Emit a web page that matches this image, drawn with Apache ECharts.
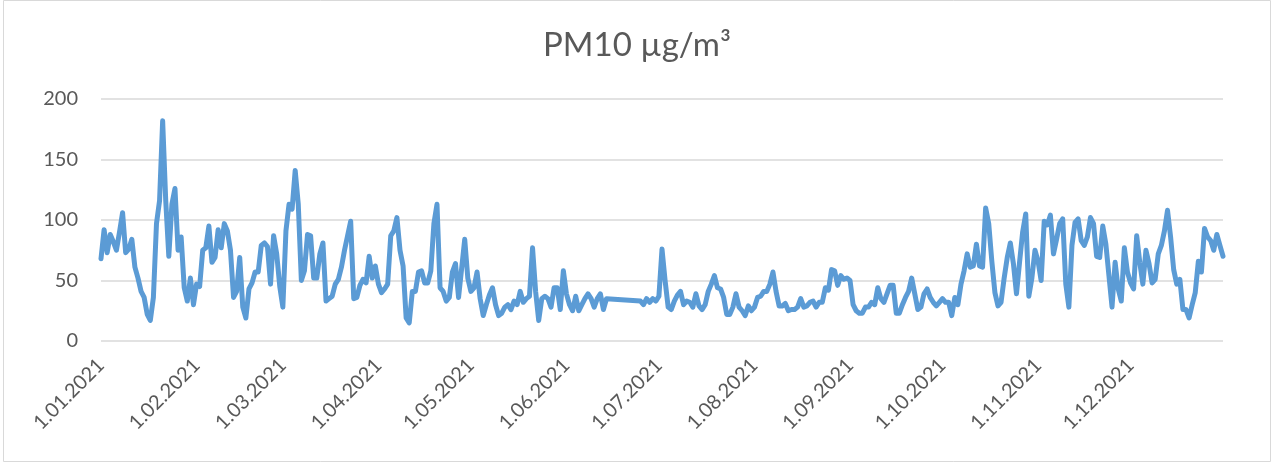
<!DOCTYPE html>
<html>
<head>
<meta charset="utf-8">
<script src="https://cdn.jsdelivr.net/npm/echarts@6/dist/echarts.min.js"></script>
<style>
  html, body { margin: 0; padding: 0; background: #fff; }
  #chart { width: 1274px; height: 466px; }
</style>
</head>
<body>
<div id="chart"></div>
<script>
// daily PM10 values for 2021, one array per month (null = no measurement)
const jan = [68, 92, 73, 88, 82, 75, 90, 106, 73, 76, 84, 61, 52, 41, 36, 22, 17, 36, 97, 116, 182, 116, 70, 113, 126, 75, 86, 44, 33, 52, 30]
const feb = [47, 45, 75, 77, 95, 65, 69, 92, 77, 97, 91, 75, 36, 41, 69, 28, 19, 43, 48, 57, 57, 79, 81, 78, 47, 87, 72, 45]
const mar = [28, 91, 113, 109, 141, 113, 50, 58, 88, 87, 52, 52, 72, 81, 33, 35, 37, 47, 51, 61, 75, 87, 99, 35, 36, 46, 51, 48, 70, 52, 62]
const apr = [47, 40, 43, 47, 87, 91, 102, 75, 62, 19, 15, 41, 41, 57, 58, 48, 48, 58, 97, 113, 44, 41, 33, 36, 57, 64, 36, 60, 84, 52]
const may = [41, 44, 57, 35, 21, 30, 38, 44, 30, 21, 23, 28, 30, 26, 33, 30, 41, 32, 35, 37, 77, 41, 17, 35, 37, 35, 28, 44, 44, 26, 58]
const jun = [39, 30, 25, 37, 25, 30, 35, 39, 35, 28, 35, 39, 26, 35, null, null, null, null, null, null, null, null, null, null, 33, 30, 35, 32, 35, 33]
const jul = [37, 76, 50, 28, 26, 33, 38, 41, 30, 33, 32, 28, 39, 29, 26, 30, 41, 47, 54, 44, 43, 36, 22, 22, 28, 39, 28, 25, 21, 29, 25]
const aug = [28, 36, 37, 41, 41, 47, 57, 41, 29, 29, 31, 25, 26, 26, 28, 35, 28, 29, 32, 33, 28, 32, 32, 44, 42, 59, 58, 46, 54, 51, 52]
const sep = [50, 30, 25, 23, 23, 28, 28, 32, 30, 44, 35, 32, 39, 46, 46, 23, 23, 30, 36, 41, 52, 39, 26, 28, 39, 43, 36, 32, 29, 32]
const oct = [35, 32, 32, 21, 36, 30, 47, 58, 72, 61, 62, 80, 62, 61, 110, 97, 66, 40, 29, 32, 52, 69, 81, 64, 39, 65, 90, 105, 37, 52, 75]
const nov = [66, 50, 99, 96, 104, 72, 84, 97, 101, 47, 28, 79, 98, 101, 83, 79, 86, 102, 97, 70, 69, 95, 80, 54, 28, 65, 43, 33, 77, 57]
const dec = [48, 43, 87, 65, 47, 75, 64, 48, 51, 72, 79, 91, 108, 86, 59, 47, 51, 26, 26, 19, 30, 40, 66, 57, 93, 86, 83, 75, 88, 79, 70]

const months = [jan, feb, mar, apr, may, jun, jul, aug, sep, oct, nov, dec]
const year = 2021
const title = 'PM10 µg/m³'
const yMin = 0
const yMax = 200
const yStep = 50

// category labels like 1.01.2021
const dates = []
const values = []
months.forEach((days, m) => {
  days.forEach((v, i) => {
    dates.push(`${i + 1}.${String(m + 1).padStart(2, '0')}.${year}`)
    values.push(v)
  })
})

const textColor = '#595959'
const font = 'Lato, "Open Sans", sans-serif'

const chart = echarts.init(document.getElementById('chart'))
chart.setOption({
  backgroundColor: '#fff',
  animation: false,
  title: {
    text: title,
    left: 'center',
    top: 24,
    textStyle: { color: textColor, fontFamily: font, fontSize: 33, fontWeight: 'normal' }
  },
  graphic: [{
    type: 'rect',
    shape: { x: 3.5, y: 0.5, width: 1267, height: 461 },
    style: { fill: 'none', stroke: '#d9d9d9', lineWidth: 1 },
    silent: true
  }],
  grid: { left: 101, right: 51, top: 99, bottom: 125, containLabel: false },
  xAxis: {
    type: 'category',
    data: dates,
    boundaryGap: false,
    axisLine: { show: false },
    axisTick: { show: false },
    splitLine: { show: false },
    axisLabel: {
      rotate: 45,
      margin: 21,
      color: textColor,
      fontFamily: font,
      fontSize: 20,
      interval: (idx, val) => val.startsWith('1.')
    }
  },
  yAxis: {
    type: 'value',
    min: yMin,
    max: yMax,
    interval: yStep,
    axisLine: { show: false },
    axisTick: { show: false },
    splitLine: { lineStyle: { color: '#d9d9d9', width: 1.5 } },
    axisLabel: { color: textColor, fontFamily: font, fontSize: 20, margin: 23 }
  },
  series: [{
    type: 'line',
    data: values,
    showSymbol: false,
    connectNulls: true,
    lineStyle: { color: '#5b9bd5', width: 5, join: 'round', cap: 'round' },
    itemStyle: { color: '#5b9bd5' }
  }]
})
</script>
</body>
</html>
